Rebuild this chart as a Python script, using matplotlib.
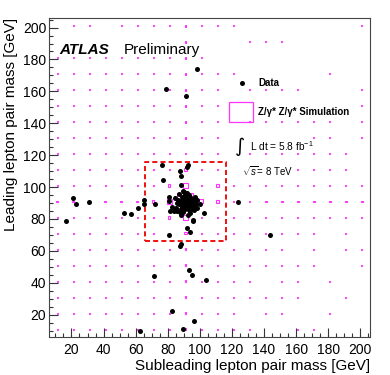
import numpy as np
import matplotlib
matplotlib.use('Agg')
import matplotlib.pyplot as plt
from matplotlib.patches import Rectangle
from matplotlib.ticker import MultipleLocator

plt.rcParams['font.family'] = ['Liberation Sans', 'DejaVu Sans']
plt.rcParams['mathtext.fontset'] = 'custom'
plt.rcParams['mathtext.rm'] = 'Liberation Sans'
plt.rcParams['mathtext.it'] = 'Liberation Sans:italic'

# Z/gamma* Z/gamma* simulation, 10 GeV bins from 6 to 206 GeV
BIN_LO = 6
BIN_W = 10
# one string per leading-mass bin (top = 201 GeV), one char per subleading bin
sim_rows = [
    ".11.11112111.......1",
    "........2...111.....",
    "1111111121..........",
    "111111112111.....1..",
    "11111111211.1111...1",
    "11111111211........1",
    "11111111211.111111.1",
    "11111111211.....11.1",
    "11111111211.1111111.",
    "11111111311....1111.",
    "11111113523111111111",
    "22222235943222222222",
    "11111113521111111111",
    "11111111311111111.1.",
    "111111112111111.1.11",
    "11111111211111111..1",
    "1111111121111.11.1..",
    "1111111121111111..1.",
    "111111112111.11..1..",
    "1111111121111..11...",
]
# bin content for each level (box side goes with sqrt of content)
sim_levels = {'.': 0.0, '1': 0.004, '2': 0.012, '3': 0.02,
              '4': 0.06, '5': 0.1, '9': 1.0}

# data events: subleading pair mass, leading pair mass [GeV]
data_sub = [98.0, 79.2, 91.4, 76.7, 92.9, 92.0, 87.7, 88.5, 76.9, 88.1,
            21.2, 23.1, 31.0, 16.3, 52.7, 57.1, 61.6, 64.9, 65.5, 72.1,
            123.9, 143.7, 102.4, 95.9, 92.0, 94.1, 80.6, 88.4, 87.8,
            71.3, 93.4, 95.1, 103.8, 82.5, 96.2, 89.7, 62.6,
            89.3, 80.6, 81.0, 82.7, 81.5, 84.1, 97.6, 100.3, 96.2, 95.5, 98.2,
            86.5, 87.2, 88.0, 88.6, 89.0, 89.4, 89.8, 90.1, 90.4, 90.7,
            91.0, 91.2, 91.5, 91.8, 92.0, 92.3, 92.6, 92.9, 93.2, 93.5,
            93.8, 94.1, 94.4, 94.8, 95.2, 95.6, 96.0, 96.5, 85.0, 86.0,
            87.5, 89.5, 90.5, 91.8, 93.0, 88.0, 97.5, 94.0, 85.5, 90.0,
            98.5, 97.0, 86.8, 84.5, 92.5, 88.5]
data_lead = [174.0, 161.7, 157.0, 113.7, 113.9, 112.8, 110.0, 106.8, 104.6, 101.6,
             93.0, 89.1, 90.7, 79.0, 83.8, 83.4, 86.7, 91.7, 89.7, 89.7,
             90.5, 70.0, 83.8, 78.6, 74.6, 72.1, 70.2, 64.4, 63.3,
             44.5, 48.2, 45.1, 42.0, 22.5, 16.2, 11.2, 9.5,
             97.4, 93.9, 91.0, 87.6, 84.9, 84.9, 91.6, 89.7, 85.9, 79.2, 92.2,
             92.0, 89.5, 91.0, 88.2, 93.5, 90.2, 87.0, 92.1, 89.0, 94.6,
             86.1, 91.3, 88.4, 90.0, 92.8, 87.2, 89.6, 91.6, 85.4, 88.5,
             93.9, 90.5, 87.6, 92.3, 89.0, 86.4, 91.2, 88.2, 87.0, 85.0,
             84.2, 84.5, 95.8, 96.5, 95.0, 86.5, 89.5, 84.0, 90.0, 97.0,
             87.0, 93.5, 95.5, 93.0, 82.5, 82.8]

# signal region window
sr_lo, sr_hi = 66, 116

MAG = '#ff33ff'

fig = plt.figure(figsize=(3.9, 3.75), dpi=100)
ax = fig.add_axes([0.1256, 0.1013, 0.8231, 0.8507])

nrows = len(sim_rows)
for i, row in enumerate(sim_rows):
    yc = BIN_LO + BIN_W * (nrows - 1 - i) + BIN_W / 2
    for j, ch in enumerate(row):
        c = sim_levels[ch]
        if c <= 0:
            continue
        xc = BIN_LO + BIN_W * j + BIN_W / 2
        s = BIN_W * np.sqrt(c)
        ax.add_patch(Rectangle((xc - s / 2, yc - s / 2), s, s, fill=False,
                               edgecolor=MAG, lw=0.8, zorder=2))

ax.plot(data_sub, data_lead, 'o', color='black', ms=3.6, mew=0, zorder=4)

ax.plot([sr_lo, sr_hi, sr_hi, sr_lo, sr_lo], [sr_lo, sr_lo, sr_hi, sr_hi, sr_lo],
        color='#ee1111', lw=1.4, ls=(0, (2.6, 1.6)), zorder=3)

ax.set_xlim(6, 206)
ax.set_ylim(6, 206)
for a in (ax.xaxis, ax.yaxis):
    a.set_major_locator(MultipleLocator(20))
    a.set_minor_locator(MultipleLocator(5))
ax.tick_params(which='both', direction='in', top=False, right=False,
               color='#333333', width=0.8, labelsize=10)
ax.tick_params(which='major', length=6.5)
ax.tick_params(which='minor', length=3.2)
ax.tick_params(axis='x', pad=4)
ax.tick_params(axis='y', pad=2)
for sp in ax.spines.values():
    sp.set_color('#444444')
    sp.set_linewidth(0.8)

ax.set_xlabel('Subleading lepton pair mass [GeV]', fontsize=11, loc='right')
ax.xaxis.set_label_coords(1.0, -0.068)
ax.set_ylabel('Leading lepton pair mass [GeV]', fontsize=11, loc='top')
ax.yaxis.set_label_coords(-0.097, 1.0)

# labels
ax.text(0.032, 0.90, 'ATLAS', transform=ax.transAxes, fontsize=11,
        fontweight='bold', fontstyle='italic', va='center')
ax.text(0.2315, 0.90, 'Preliminary', transform=ax.transAxes, fontsize=11,
        va='center')

ax.plot([0.600], [0.797], 'o', color='black', ms=3.6, mew=0,
        transform=ax.transAxes, clip_on=False)
ax.text(0.651, 0.797, 'Data', transform=ax.transAxes, fontsize=7,
        fontweight='bold', va='center')
ax.add_patch(Rectangle((0.5617, 0.673), 0.0747, 0.0646, transform=ax.transAxes,
                       fill=False, edgecolor=MAG, lw=0.9))
ax.text(0.652, 0.706, 'Z/γ* Z/γ* Simulation', transform=ax.transAxes,
        fontsize=7, fontweight='bold', va='center')

ax.text(0.595, 0.597, '∫', transform=ax.transAxes, fontsize=14,
        family='DejaVu Sans', va='center', ha='center')
ax.text(0.626, 0.597, r'L dt = 5.8 fb$^{-1}$', transform=ax.transAxes,
        fontsize=7.3, va='center')
ax.text(0.600, 0.521, r'$\sqrt{s}$= 8 TeV', transform=ax.transAxes,
        fontsize=7, va='center')

fig.savefig('out.png', dpi=100)
